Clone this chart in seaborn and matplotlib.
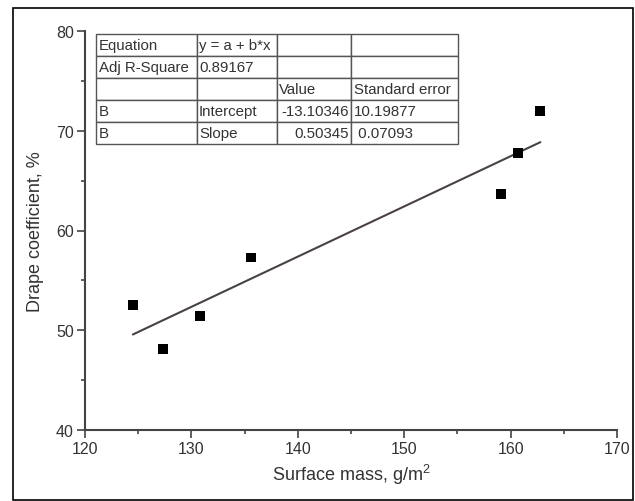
import matplotlib
matplotlib.use("Agg")
import matplotlib.pyplot as plt
import seaborn as sns
import numpy as np
import pandas as pd
from matplotlib.patches import Rectangle
from matplotlib.ticker import MultipleLocator

# ---- data ----
surface_mass = [124.5, 127.3, 130.8, 135.6, 159.1, 160.7, 162.8]
drape_coef = [52.5, 48.1, 51.4, 57.3, 63.7, 67.8, 72.0]
intercept = -13.10346
slope = 0.50345
x_ticks = [120, 130, 140, 150, 160, 170]
y_ticks = [40, 50, 60, 70, 80]
table_rows = [
    ["Equation", "y = a + b*x", "", ""],
    ["Adj R-Square", "0.89167", "", ""],
    ["", "", "Value", "Standard error"],
    ["B", "Intercept", "-13.10346", "10.19877"],
    ["B", "Slope", "0.50345", " 0.07093"],
]

sns.set_theme(style="ticks")
plt.rcParams["font.family"] = ["Liberation Sans", "DejaVu Sans"]
plt.rcParams["mathtext.default"] = "regular"

fig = plt.figure(figsize=(6.35, 5.02), dpi=100)
# axes: x 85..617 px, y 32..431 px
ax = fig.add_axes([85 / 635, 71 / 502, 532 / 635, 399 / 502])

df = pd.DataFrame({"x": surface_mass, "y": drape_coef})
fit_x = np.array([min(surface_mass), max(surface_mass)])
fit_df = pd.DataFrame({"x": fit_x, "y": intercept + slope * fit_x})

sns.lineplot(data=fit_df, x="x", y="y", ax=ax, color="#4a4242", lw=1.5)
sns.scatterplot(data=df, x="x", y="y", ax=ax, marker="s", s=50,
                color="black", edgecolor="none", zorder=5)

ax.set_xlim(120, 170)
ax.set_ylim(40, 80)
ax.set_xticks(x_ticks)
ax.set_yticks(y_ticks)
ax.xaxis.set_minor_locator(MultipleLocator(5))
ax.yaxis.set_minor_locator(MultipleLocator(5))
ax.tick_params(which="major", direction="out", length=6, width=1.2,
               color="#444444", labelsize=11.5, labelcolor="#333333", pad=2)
ax.tick_params(which="minor", direction="out", length=3, width=1.2,
               color="#444444")
for s in ["top", "right"]:
    ax.spines[s].set_visible(False)
for s in ["left", "bottom"]:
    ax.spines[s].set_color("#444444")
    ax.spines[s].set_linewidth(1.5)

ax.set_xlabel("Surface mass, g/m$^{2}$", fontsize=13, color="#333333", labelpad=4)
ax.set_ylabel("Drape coefficient, %", fontsize=13, color="#333333", labelpad=9)

# table (pixel box: x 96..458, y 35..145)
col_w = [101, 80, 74, 107]
tot = sum(col_w)
tbl = ax.table(cellText=table_rows, colWidths=[w / tot for w in col_w],
               bbox=[(96 - 85) / 532, (431 - 145) / 399, 362 / 532, 110 / 399],
               cellLoc="left")
tbl.auto_set_font_size(False)
tbl.set_fontsize(10.8)
for (r, c), cell in tbl.get_celld().items():
    cell.set_edgecolor("#555555")
    cell.set_linewidth(1.0)
    cell.set_facecolor("white")
    cell.PAD = 0.025
    cell.get_text().set_color("#333333")
    if c == 2 and r in (3, 4):
        cell._loc = "right"
        cell.get_text().set_ha("right")

fig.patches.append(Rectangle((13 / 635, 1 / 502), 620 / 635, 492 / 502,
                             transform=fig.transFigure, fill=False,
                             edgecolor="black", linewidth=1.2))

fig.savefig("out.png", dpi=100)
